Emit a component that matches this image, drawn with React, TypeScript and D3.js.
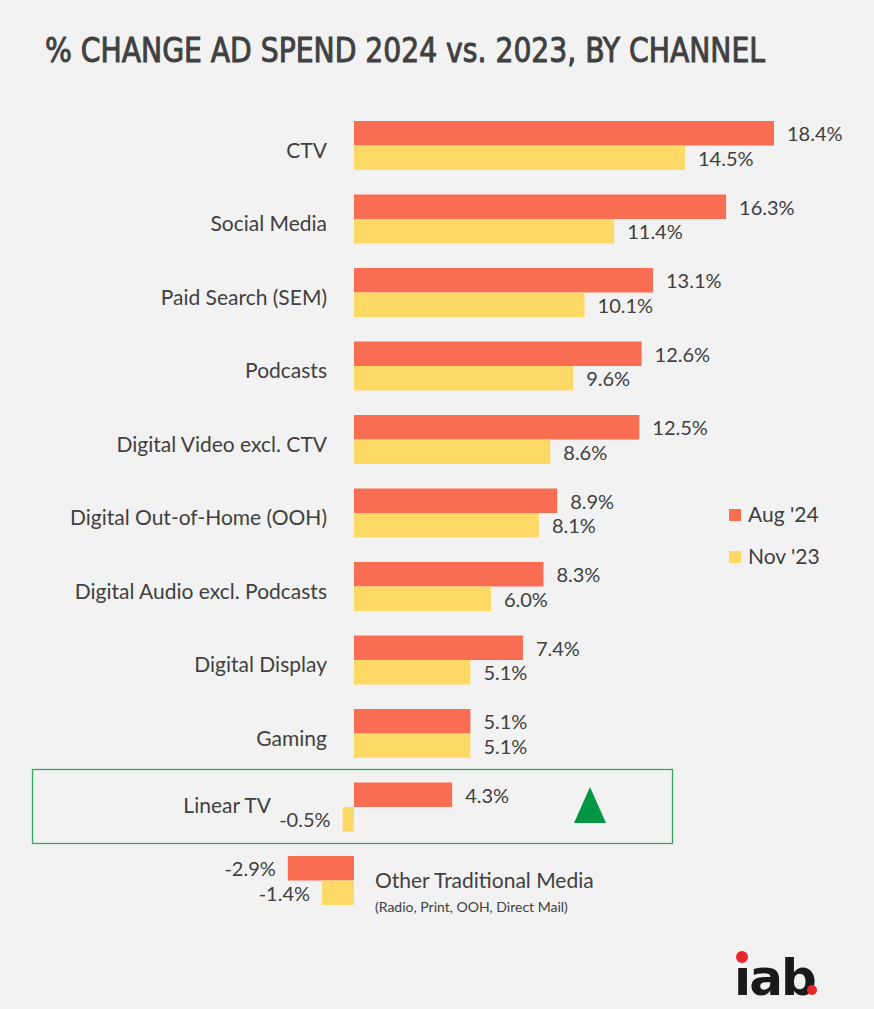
import React from 'react';
import * as d3 from 'd3';

const categories = [
  'CTV',
  'Social Media',
  'Paid Search (SEM)',
  'Podcasts',
  'Digital Video excl. CTV',
  'Digital Out-of-Home (OOH)',
  'Digital Audio excl. Podcasts',
  'Digital Display',
  'Gaming',
  'Linear TV',
  'Other Traditional Media',
];
const aug24 = [18.4, 16.3, 13.1, 12.6, 12.5, 8.9, 8.3, 7.4, 5.1, 4.3, -2.9];
const nov23 = [14.5, 11.4, 10.1, 9.6, 8.6, 8.1, 6.0, 5.1, 5.1, -0.5, -1.4];
const seriesNames = ["Aug '24", "Nov '23"];
const colors = ['#f96d52', '#ffd966'];

const W = 874;
const H = 1009;
const font = 'Lato, "Open Sans", sans-serif';
const textColor = '#404040';

export default function App() {
  const x = d3.scaleLinear().domain([0, 18.4]).range([354, 774]);
  const y = d3.scaleBand<string>().domain(categories).range([121, 905]).paddingInner(1 / 3).paddingOuter(0);
  const sub = d3.scaleBand<number>().domain([0, 1]).range([0, y.bandwidth()]);

  const fmt = (v: number) => v.toFixed(1) + '%';

  const rows = categories.map((c, i) => ({ c, i, vals: [aug24[i], nov23[i]] }));

  return (
    <div style={{ position: 'absolute', left: 0, top: 0 }}>
      <svg width={W} height={H} style={{ display: 'block', background: '#f2f2f2' }}>
        <rect width={W} height={H} fill="#f2f2f2" />
        <text x={45} y={62} fontFamily='"DejaVu Sans Condensed", "DejaVu Sans", sans-serif'
          fontSize={34} fill={textColor} stroke={textColor} strokeWidth={0.9}
          textLength={720} lengthAdjust="spacingAndGlyphs">
          % CHANGE AD SPEND 2024 vs. 2023, BY CHANNEL
        </text>

        {/* highlight box around Linear TV */}
        <rect x={32.5} y={769.5} width={640} height={74} fill="none" stroke="#2eaa5c" strokeWidth={1.3} />
        <path d={d3.line()([[590, 787], [606, 823], [574, 823]]) + 'Z'} fill="#009644" />

        {rows.map(({ c, i, vals }) => {
          const y0 = y(c)!;
          const mid = y0 + y.bandwidth() / 2;
          const isLinear = c === 'Linear TV';
          const isOther = i === categories.length - 1;
          return (
            <g key={c}>
              {vals.map((v, k) => {
                const by = y0 + sub(k)!;
                const x0 = Math.min(x(0), x(v));
                const w = Math.abs(x(v) - x(0));
                const cy = by + sub.bandwidth() / 2;
                const neg = v < 0;
                return (
                  <g key={k}>
                    <rect x={x0} y={by} width={w} height={sub.bandwidth()} fill={colors[k]} />
                    <text x={neg ? x(v) - 12 : x(v) + 13} y={cy + 8} textAnchor={neg ? 'end' : 'start'}
                      fontFamily={font} fontSize={20} fill={textColor}>
                      {fmt(v)}
                    </text>
                  </g>
                );
              })}
              {isOther ? (
                <g>
                  <text x={375} y={mid + 7} fontFamily={font} fontSize={21} fill={textColor}>{c}</text>
                  <text x={375} y={mid + 31} fontFamily={font} fontSize={14} fill={textColor}>
                    (Radio, Print, OOH, Direct Mail)
                  </text>
                </g>
              ) : (
                <text x={isLinear ? 271 : 327} y={isLinear ? mid + 6 : mid + 12} textAnchor="end"
                  fontFamily={font} fontSize={21} fill={textColor}>
                  {c}
                </text>
              )}
            </g>
          );
        })}

        {/* legend */}
        {seriesNames.map((s, k) => (
          <g key={s} transform={`translate(729, ${509 + k * 42})`}>
            <rect width={12} height={12} fill={colors[k]} />
            <text x={19} y={13} fontFamily={font} fontSize={21} fill={textColor}>{s}</text>
          </g>
        ))}

        {/* iab logo */}
        <g>
          <text x={734} y={995} fontFamily='"DejaVu Sans", sans-serif' fontWeight="bold" fontSize={50}
            fill="#1a1a1a" letterSpacing={-2}>ıab</text>
          <circle cx={742} cy={957} r={6} fill="#e8262b" />
          <circle cx={812} cy={990} r={5} fill="#e8262b" />
        </g>
      </svg>
    </div>
  );
}
